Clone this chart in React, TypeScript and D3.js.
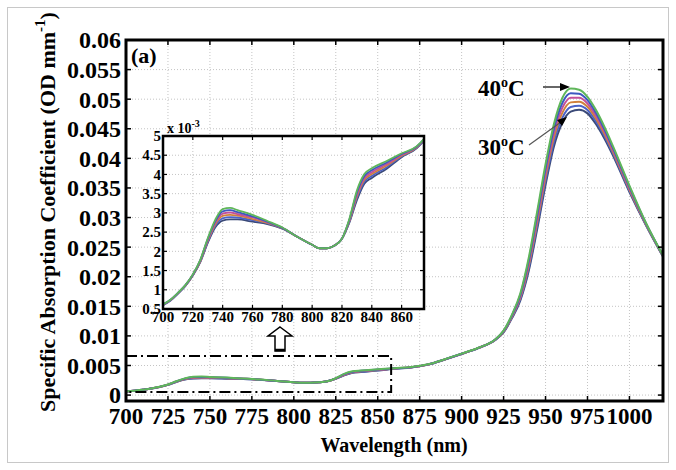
import React from 'react';
import * as d3 from 'd3';

// wavelength grid (nm) and absorption spectra, values in 10^-3 OD mm^-1
const wavelengths = [700, 705, 710, 715, 720, 725, 730, 735, 740, 745, 750, 760, 770, 780, 790, 800, 805, 810, 815, 820, 825, 830, 835, 840, 850, 860, 870, 880, 890, 900, 910, 920, 925, 930, 935, 940, 945, 950, 955, 960, 965, 970, 975, 980, 985, 990, 1000, 1010, 1020];

const abs30 = [0.60, 0.72, 0.90, 1.10, 1.37, 1.72, 2.22, 2.62, 2.80, 2.83, 2.83, 2.77, 2.71, 2.59, 2.38, 2.17, 2.08, 2.08, 2.15, 2.33, 2.75, 3.33, 3.76, 3.91, 4.15, 4.45, 4.68, 5.15, 6.00, 6.95, 7.95, 9.30, 10.6, 13.0, 16.0, 21.0, 28.0, 35.5, 42.0, 46.0, 47.9, 48.2, 47.6, 45.8, 43.4, 40.6, 34.3, 28.6, 23.4];
const abs32 = [0.60, 0.72, 0.90, 1.10, 1.38, 1.73, 2.24, 2.66, 2.86, 2.89, 2.88, 2.81, 2.73, 2.60, 2.38, 2.17, 2.08, 2.08, 2.15, 2.33, 2.77, 3.38, 3.81, 3.96, 4.19, 4.47, 4.69, 5.16, 6.01, 6.96, 7.96, 9.32, 10.66, 13.12, 16.24, 21.44, 28.6, 36.2, 42.76, 46.84, 48.68, 48.88, 48.16, 46.28, 43.8, 40.92, 34.52, 28.68, 23.44];
const abs34 = [0.61, 0.73, 0.91, 1.11, 1.38, 1.74, 2.27, 2.70, 2.92, 2.95, 2.93, 2.84, 2.74, 2.60, 2.38, 2.17, 2.08, 2.08, 2.15, 2.33, 2.79, 3.43, 3.86, 4.01, 4.23, 4.49, 4.70, 5.17, 6.02, 6.97, 7.97, 9.34, 10.72, 13.24, 16.48, 21.88, 29.2, 36.9, 43.52, 47.68, 49.46, 49.56, 48.72, 46.76, 44.2, 41.24, 34.74, 28.76, 23.48];
const abs36 = [0.61, 0.73, 0.91, 1.11, 1.39, 1.76, 2.29, 2.74, 2.98, 3.01, 2.97, 2.88, 2.76, 2.61, 2.38, 2.17, 2.08, 2.08, 2.15, 2.33, 2.81, 3.48, 3.91, 4.06, 4.27, 4.51, 4.71, 5.18, 6.03, 6.98, 7.98, 9.36, 10.78, 13.36, 16.72, 22.32, 29.8, 37.6, 44.28, 48.52, 50.24, 50.24, 49.28, 47.24, 44.6, 41.56, 34.96, 28.84, 23.52];
const abs38 = [0.62, 0.74, 0.92, 1.12, 1.39, 1.77, 2.32, 2.78, 3.04, 3.07, 3.02, 2.91, 2.77, 2.61, 2.38, 2.17, 2.08, 2.08, 2.15, 2.33, 2.83, 3.53, 3.96, 4.11, 4.31, 4.53, 4.72, 5.19, 6.04, 6.99, 7.99, 9.38, 10.84, 13.48, 16.96, 22.76, 30.4, 38.3, 45.04, 49.36, 51.02, 50.92, 49.84, 47.72, 45.0, 41.88, 35.18, 28.92, 23.56];
const abs40 = [0.62, 0.74, 0.92, 1.12, 1.40, 1.78, 2.34, 2.82, 3.10, 3.13, 3.07, 2.95, 2.79, 2.62, 2.38, 2.17, 2.08, 2.08, 2.15, 2.33, 2.85, 3.58, 4.01, 4.16, 4.35, 4.55, 4.73, 5.20, 6.05, 7.00, 8.00, 9.40, 10.9, 13.6, 17.2, 23.2, 31.0, 39.0, 45.8, 50.2, 51.8, 51.6, 50.4, 48.2, 45.4, 42.2, 35.4, 29.0, 23.6];

const series = [abs30, abs32, abs34, abs36, abs38, abs40];
const seriesColors = ['#3b4a78', '#4a62c8', '#d0803c', '#c2509a', '#3c58c0', '#5fb65a'];

const xTicksMain = [700, 725, 750, 775, 800, 825, 850, 875, 900, 925, 950, 975, 1000];
const yTicksMain = [0, 0.005, 0.01, 0.015, 0.02, 0.025, 0.03, 0.035, 0.04, 0.045, 0.05, 0.055, 0.06];
const yTickLabelsMain = ['0', '0.005', '0.01', '0.015', '0.02', '0.025', '0.03', '0.035', '0.04', '0.045', '0.05', '0.055', '0.06'];
const xTicksInset = [700, 720, 740, 760, 780, 800, 820, 840, 860];
const yTicksInset = [0.5, 1, 1.5, 2, 2.5, 3, 3.5, 4, 4.5, 5];

// zoom window marked on the main plot
const boxX = [700, 858];
const boxY = [0.0005, 0.0066];

const serif = '"Liberation Serif", "Times New Roman", Times, serif';
const main = { left: 126, top: 40, right: 663, bottom: 401 };
const ins = { left: 163, top: 136, right: 424, bottom: 309 };

export default function App() {
  const x = d3.scaleLinear().domain([700, 1020]).range([main.left, main.right]);
  const y = d3.scaleLinear().domain([-0.001, 0.06]).range([main.bottom, main.top]);
  const xi = d3.scaleLinear().domain([700, 875]).range([ins.left, ins.right]);
  const yi = d3.scaleLinear().domain([0.5, 5]).range([ins.bottom, ins.top]);

  const lineMain = d3.line<number>()
    .x((_, i) => x(wavelengths[i]))
    .y(v => y(v / 1000))
    .curve(d3.curveMonotoneX);
  const lineInset = d3.line<number>()
    .x((_, i) => xi(wavelengths[i]))
    .y(v => yi(v))
    .curve(d3.curveMonotoneX);

  const grid = { stroke: '#c4c4c4', strokeWidth: 1, strokeDasharray: '1,2' };

  return (
    <svg width={676} height={470}
      style={{ position: 'absolute', left: 0, top: 0, background: '#fff', fontFamily: serif, fontWeight: 'bold' }}>
      <defs>
        <clipPath id="clipMain">
          <rect x={main.left} y={main.top} width={main.right - main.left} height={main.bottom - main.top} />
        </clipPath>
        <clipPath id="clipInset">
          <rect x={ins.left} y={ins.top} width={ins.right - ins.left} height={ins.bottom - ins.top} />
        </clipPath>
      </defs>
      <rect x={7.5} y={7.5} width={661} height={455} fill="#fff" stroke="#c8c8c8" />

      {/* main grid */}
      {xTicksMain.map(t => (
        <line key={'gx' + t} x1={x(t)} x2={x(t)} y1={main.top} y2={main.bottom} {...grid} />
      ))}
      {yTicksMain.map(t => (
        <line key={'gy' + t} x1={main.left} x2={main.right} y1={y(t)} y2={y(t)} {...grid} />
      ))}

      {/* main curves */}
      <g clipPath="url(#clipMain)" fill="none">
        {series.map((s, i) => (
          <path key={i} d={lineMain(s) || ''} stroke={seriesColors[i]} strokeWidth={2} />
        ))}
      </g>

      {/* main ticks */}
      {xTicksMain.map(t => (
        <g key={'tx' + t} stroke="#000" strokeWidth={1.5}>
          <line x1={x(t)} x2={x(t)} y1={main.bottom} y2={main.bottom - 5} />
          <line x1={x(t)} x2={x(t)} y1={main.top} y2={main.top + 5} />
        </g>
      ))}
      {yTicksMain.map(t => (
        <g key={'ty' + t} stroke="#000" strokeWidth={1.5}>
          <line x1={main.left} x2={main.left + 5} y1={y(t)} y2={y(t)} />
          <line x1={main.right} x2={main.right - 5} y1={y(t)} y2={y(t)} />
        </g>
      ))}
      <rect x={main.left} y={main.top} width={main.right - main.left} height={main.bottom - main.top}
        fill="none" stroke="#000" strokeWidth={3} />

      {/* main tick labels */}
      {xTicksMain.map(t => (
        <text key={'lx' + t} x={x(t)} y={424} textAnchor="middle" fontSize={23}>{t}</text>
      ))}
      {yTicksMain.map((t, i) => (
        <text key={'ly' + t} x={121} y={y(t)} dy="0.35em" textAnchor="end" fontSize={24}>{yTickLabelsMain[i]}</text>
      ))}

      <text x={131} y={63} fontSize={22}>(a)</text>

      {/* dash-dot zoom window */}
      <path d={`M${x(boxX[0])},${y(boxY[1])}H${x(boxX[1])}V${y(boxY[0])}H${x(boxX[0])}`}
        fill="none" stroke="#000" strokeWidth={2} strokeDasharray="11,4,2,4" />

      {/* hollow up arrow */}
      <path d="M280,327 L292,336 L285,336 L285,351 L275,351 L275,336 L268,336 Z" fill="#fff" stroke="#000" strokeWidth={1.5} />
      <line x1={275} x2={285} y1={350} y2={350} stroke="#000" strokeWidth={2.5} />

      {/* inset */}
      <rect x={ins.left} y={ins.top} width={ins.right - ins.left} height={ins.bottom - ins.top} fill="#fff" />
      {xTicksInset.map(t => (
        <line key={'igx' + t} x1={xi(t)} x2={xi(t)} y1={ins.top} y2={ins.bottom} {...grid} />
      ))}
      {yTicksInset.map(t => (
        <line key={'igy' + t} x1={ins.left} x2={ins.right} y1={yi(t)} y2={yi(t)} {...grid} />
      ))}
      <g clipPath="url(#clipInset)" fill="none">
        {series.map((s, i) => (
          <path key={i} d={lineInset(s) || ''} stroke={seriesColors[i]} strokeWidth={1.8} />
        ))}
      </g>
      {xTicksInset.map(t => (
        <g key={'itx' + t} stroke="#000" strokeWidth={1.2}>
          <line x1={xi(t)} x2={xi(t)} y1={ins.bottom} y2={ins.bottom - 4} />
          <line x1={xi(t)} x2={xi(t)} y1={ins.top} y2={ins.top + 4} />
        </g>
      ))}
      {yTicksInset.map(t => (
        <g key={'ity' + t} stroke="#000" strokeWidth={1.2}>
          <line x1={ins.left} x2={ins.left + 4} y1={yi(t)} y2={yi(t)} />
          <line x1={ins.right} x2={ins.right - 4} y1={yi(t)} y2={yi(t)} />
        </g>
      ))}
      <rect x={ins.left} y={ins.top} width={ins.right - ins.left} height={ins.bottom - ins.top}
        fill="none" stroke="#000" strokeWidth={2.5} />
      {xTicksInset.map(t => (
        <text key={'ilx' + t} x={xi(t)} y={322} textAnchor="middle" fontSize={15}>{t}</text>
      ))}
      {yTicksInset.map(t => (
        <text key={'ily' + t} x={161} y={yi(t)} dy="0.35em" textAnchor="end" fontSize={15}>{t}</text>
      ))}
      <text x={167} y={133} fontSize={14}>x 10<tspan dy={-6} fontSize={10}>-3</tspan></text>

      {/* temperature annotations */}
      <text x={478} y={96} fontSize={23}>40<tspan dy={-9} fontSize={14}>o</tspan><tspan dy={9}>C</tspan></text>
      <line x1={543} x2={562} y1={87} y2={87} stroke="#000" strokeWidth={1.2} />
      <path d="M570,87 L560,83 L560,91 Z" fill="#000" />
      <text x={478} y={155} fontSize={23}>30<tspan dy={-9} fontSize={14}>o</tspan><tspan dy={9}>C</tspan></text>
      <line x1={529} x2={561} y1={145} y2={122} stroke="#555" strokeWidth={1.2} />
      <path d="M567,117 L557,120 L562,126 Z" fill="#000" />

      {/* axis titles */}
      <text x={394} y={452} textAnchor="middle" fontSize={20}>Wavelength (nm)</text>
      <text transform="translate(55,412) rotate(-90)" fontSize={22}>
        Specific Absorption Coefficient (OD mm<tspan dy={-10} fontSize={15}>-1</tspan><tspan dy={10}>)</tspan>
      </text>
    </svg>
  );
}
